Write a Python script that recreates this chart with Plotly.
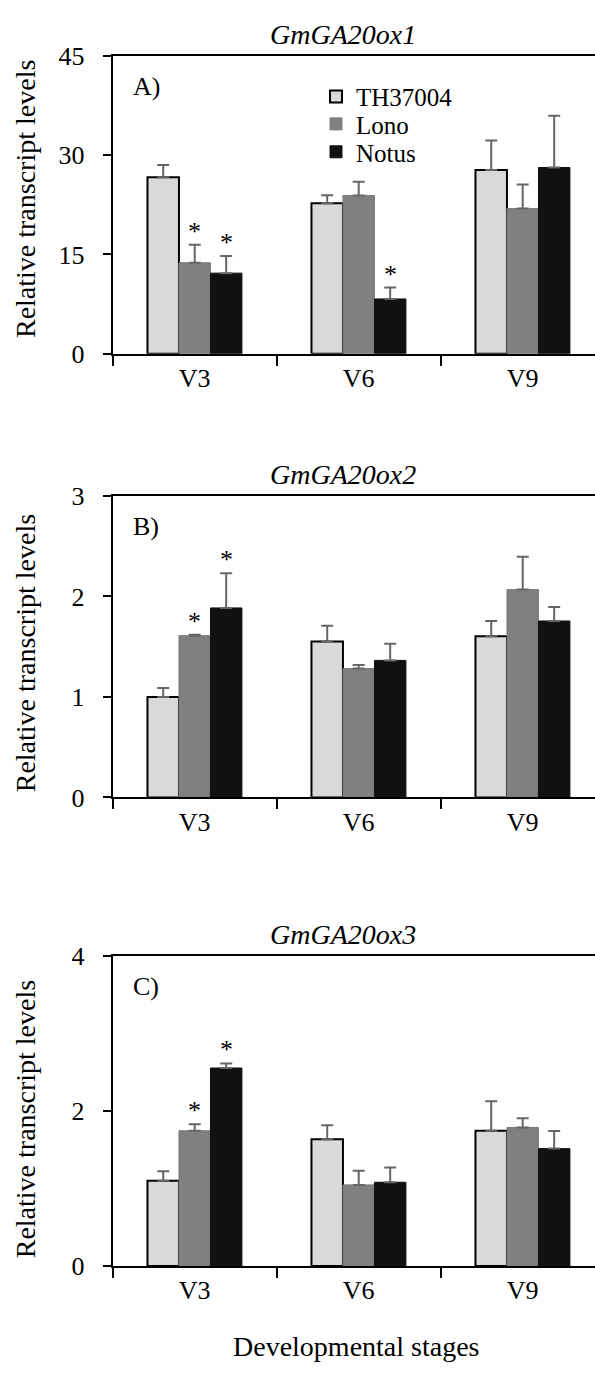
import plotly.graph_objects as go

# ---- data ---------------------------------------------------------------
stages = ["V3", "V6", "V9"]
cultivars = ["TH37004", "Lono", "Notus"]
genes = ["GmGA20ox1", "GmGA20ox2", "GmGA20ox3"]
panel_tags = ["A)", "B)", "C)"]

# mean relative transcript level per cultivar (rows) and stage (columns)
ox1_mean = [[26.65, 22.71, 27.74], [13.74, 23.90, 21.92], [12.17, 8.27, 28.13]]
ox1_err = [[1.85, 1.24, 4.48], [2.70, 2.06, 3.65], [2.60, 1.73, 7.80]]
ox1_sig = [("Lono", "V3"), ("Notus", "V3"), ("Notus", "V6")]

ox2_mean = [[1.00, 1.552, 1.604], [1.61, 1.282, 2.068], [1.886, 1.364, 1.756]]
ox2_err = [[0.088, 0.156, 0.153], [0.010, 0.036, 0.328], [0.344, 0.166, 0.140]]
ox2_sig = [("Lono", "V3"), ("Notus", "V3")]

ox3_mean = [[1.103, 1.638, 1.747], [1.747, 1.048, 1.789], [2.556, 1.082, 1.516]]
ox3_err = [[0.122, 0.181, 0.379], [0.084, 0.181, 0.118], [0.059, 0.189, 0.227]]
ox3_sig = [("Lono", "V3"), ("Notus", "V3")]

y_max = [45, 3, 4]
y_ticks = [[0, 15, 30, 45], [0, 1, 2, 3], [0, 2, 4]]

# ---- styling ------------------------------------------------------------
W, H = 595, 1380
FONT = "'Liberation Serif', 'Times New Roman', Tinos, 'DejaVu Serif', serif"
fills = ["#d9d9d9", "#808080", "#111111"]
outlines = ["#000000", "#7a7a7a", "#111111"]
ERR_COLOR = "#666666"

plot_left = 112.7          # px, left edge of every plot area
cat_pitch = 164.0          # px per stage category
panel_px = [(42.7, 347.0), (492.3, 800.3), (962.3, 1279.0)]  # (top, bottom)
ytitle_mid = [189, 653, 1129]                                 # px, y-title centres
bargap = 0.424

x_range = [-0.5, -0.5 + (W - plot_left) / cat_pitch]
bar_w = (1 - bargap) / len(cultivars)


def py(px):
    return 1 - px / H


def px_x(px):
    return px / W


means = [ox1_mean, ox2_mean, ox3_mean]
errs = [ox1_err, ox2_err, ox3_err]
sigs = [ox1_sig, ox2_sig, ox3_sig]

fig = go.Figure()
legend_keys = ["legend", "legend2", "legend3"]

for p in range(3):
    ax = "" if p == 0 else str(p + 1)
    for j, cv in enumerate(cultivars):
        fig.add_trace(go.Bar(
            x=stages, y=means[p][j], name=cv,
            marker=dict(color=fills[j], line=dict(color=outlines[j], width=2 if j == 0 else 1)),
            error_y=dict(type="data", array=errs[p][j], arrayminus=[0] * len(stages),
                         symmetric=False, color=ERR_COLOR, thickness=2, width=6),
            xaxis="x" + ax, yaxis="y" + ax,
            showlegend=(p == 0), legend=legend_keys[j],
        ))

    top, bottom = panel_px[p]
    fig.layout["xaxis" + ax] = dict(
        domain=[px_x(plot_left), 1], anchor="y" + ax, type="category",
        categoryorder="array", categoryarray=stages, range=x_range,
        tickson="boundaries", ticks="outside", ticklen=10, tickwidth=2, tickcolor="black",
        showline=True, linewidth=2, linecolor="black", mirror=True, showgrid=False,
        tickfont=dict(family=FONT, size=26, color="black"),
    )
    fig.layout["yaxis" + ax] = dict(
        domain=[py(bottom), py(top)], anchor="x" + ax, range=[0, y_max[p]],
        tickvals=y_ticks[p], ticks="outside", ticklen=8, tickwidth=2, tickcolor="black",
        showline=True, linewidth=2, linecolor="black", showgrid=False, zeroline=False,
        ticklabelposition="outside", ticklabelstandoff=13,
        tickfont=dict(family=FONT, size=26, color="black"),
    )

    # gene name above each panel
    fig.add_annotation(xref="paper", yref="paper", x=px_x(343.5), y=py(top - 22),
                       text="<i>%s</i>" % genes[p], showarrow=False,
                       xanchor="center", yanchor="middle",
                       font=dict(family=FONT, size=28, color="black"))
    # panel letter
    fig.add_annotation(xref="paper", yref="paper", x=px_x(131), y=py(top + 31),
                       text=panel_tags[p], showarrow=False,
                       xanchor="left", yanchor="middle",
                       font=dict(family=FONT, size=26, color="black"))
    # y-axis title
    fig.add_annotation(xref="paper", yref="paper", x=px_x(25), y=py(ytitle_mid[p]),
                       text="Relative transcript levels", showarrow=False, textangle=-90,
                       xanchor="center", yanchor="middle",
                       font=dict(family=FONT, size=28, color="black"))

    # significance asterisks above the error bars
    for cv, st in sigs[p]:
        j = cultivars.index(cv)
        k = stages.index(st)
        fig.add_annotation(xref="x" + ax, yref="y" + ax,
                           x=k + (j - 1) * bar_w, y=means[p][j][k] + errs[p][j][k],
                           text="*", showarrow=False, xanchor="center", yanchor="bottom",
                           yshift=-3, font=dict(family=FONT, size=26, color="black"))

fig.add_annotation(xref="paper", yref="paper", x=px_x(356), y=py(1361),
                   text="Developmental stages", showarrow=False,
                   xanchor="center", yanchor="middle",
                   font=dict(family=FONT, size=28, color="black"))

legend_rows = [84.5, 112.5, 141.0]
for j, key in enumerate(legend_keys):
    fig.layout[key] = dict(
        x=px_x(316), y=py(legend_rows[j]), xanchor="left", yanchor="middle",
        bgcolor="rgba(0,0,0,0)", borderwidth=0,
        font=dict(family=FONT, size=25, color="black"),
    )

fig.update_layout(
    width=W, height=H, margin=dict(l=0, r=0, t=0, b=0),
    barmode="group", bargap=bargap, bargroupgap=0,
    plot_bgcolor="white", paper_bgcolor="white",
    font=dict(family=FONT, color="black"),
)

fig.write_html("out.html", config={"displayModeBar": False})
